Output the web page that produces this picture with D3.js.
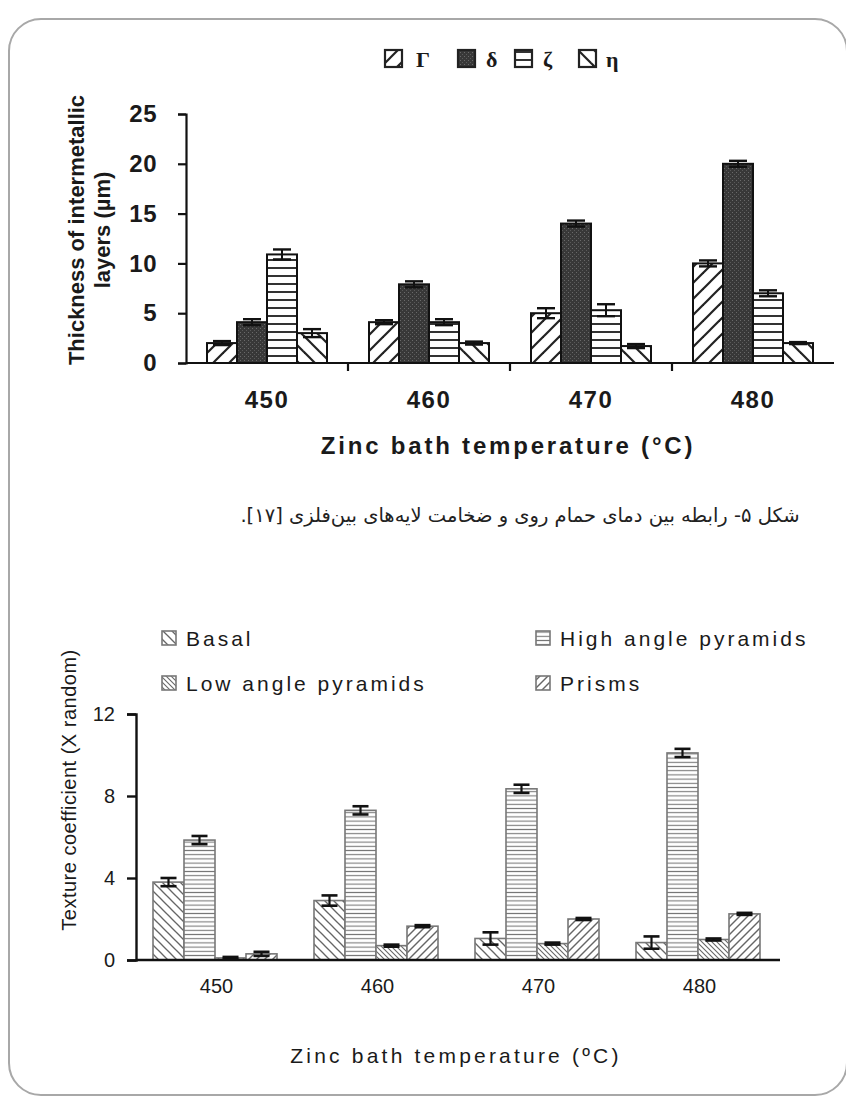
<!DOCTYPE html>
<html>
<head>
<meta charset="utf-8">
<script src="https://cdn.jsdelivr.net/npm/d3@7/dist/d3.min.js"></script>
<style>
  html, body { margin: 0; padding: 0; background: #fff; }
  svg { display: block; }
</style>
</head>
<body>
<svg id="fig" width="846" height="1098"></svg>
<script>
// ---- Figure 5 (top): intermetallic layer thickness ----
const tempsTop = ["450", "460", "470", "480"];
const phases = ["Γ", "δ", "ζ", "η"];
const gammaVals = [2.0, 4.1, 5.0, 10.0];
const deltaVals = [4.1, 7.9, 14.0, 20.0];
const zetaVals  = [10.9, 4.1, 5.3, 7.0];
const etaVals   = [3.0, 2.0, 1.7, 2.0];
const gammaErr = [0.2, 0.2, 0.5, 0.3];
const deltaErr = [0.3, 0.3, 0.3, 0.3];
const zetaErr  = [0.5, 0.3, 0.6, 0.3];
const etaErr   = [0.4, 0.15, 0.2, 0.1];
const yTicksTop = [0, 5, 10, 15, 20, 25];

// ---- Bottom: texture coefficients ----
const tempsBot = ["450", "460", "470", "480"];
const planes = ["Basal", "High angle pyramids", "Low angle pyramids", "Prisms"];
const basalVals = [3.8, 2.9, 1.05, 0.85];
const highVals  = [5.85, 7.3, 8.35, 10.1];
const lowVals   = [0.1, 0.7, 0.8, 1.0];
const prismVals = [0.3, 1.65, 2.0, 2.25];
const basalErr = [0.2, 0.25, 0.3, 0.3];
const highErr  = [0.2, 0.2, 0.2, 0.2];
const lowErr   = [0.05, 0.05, 0.05, 0.05];
const prismErr = [0.1, 0.05, 0.05, 0.05];
const yTicksBot = [0, 4, 8, 12];

const caption = "شکل ۵- رابطه بین دمای حمام روی و ضخامت لایه‌های بین‌فلزی [۱۷].";

const SANS = "Liberation Sans, Arial, sans-serif";
const svg = d3.select("#fig");
const defs = svg.append("defs");

// hatch patterns
function hatch(id, size, paths, stroke, sw, bg) {
  const p = defs.append("pattern").attr("id", id)
    .attr("patternUnits", "userSpaceOnUse").attr("width", size).attr("height", size);
  p.append("rect").attr("width", size).attr("height", size).attr("fill", bg || "#fff");
  paths.forEach(d => p.append("path").attr("d", d).attr("stroke", stroke)
    .attr("stroke-width", sw).attr("fill", "none"));
  return `url(#${id})`;
}
function fwd(s) { return [`M0,${s} L${s},0`, `M${-s/2},${s/2} L${s/2},${-s/2}`, `M${s/2},${s*1.5} L${s*1.5},${s/2}`]; }
function back(s) { return [`M0,0 L${s},${s}`, `M${-s/2},${s/2} L${s/2},${s*1.5}`, `M${s/2},${-s/2} L${s*1.5},${s/2}`]; }

const pGamma = hatch("pGamma", 16, fwd(16), "#222", 2.2);
const pEta   = hatch("pEta", 16, back(16), "#222", 2.2);
const pZeta  = hatch("pZeta", 8, ["M0,4 L8,4"], "#333", 2);
// dark dotted fill for delta
(function () {
  const p = defs.append("pattern").attr("id", "pDelta")
    .attr("patternUnits", "userSpaceOnUse").attr("width", 4).attr("height", 4);
  p.append("rect").attr("width", 4).attr("height", 4).attr("fill", "#383838");
  p.append("rect").attr("x", 0).attr("y", 0).attr("width", 1).attr("height", 1).attr("fill", "#6a6a6a");
  p.append("rect").attr("x", 2).attr("y", 2).attr("width", 1).attr("height", 1).attr("fill", "#5a5a5a");
})();
const pDelta = "url(#pDelta)";

const pBasal = hatch("pBasal", 9, back(9), "#666", 1.3);
const pHigh  = hatch("pHigh", 4.2, ["M0,2.1 L4.2,2.1"], "#777", 1.1);
const pLow   = hatch("pLow", 5, back(5), "#666", 1.1);
const pPrism = hatch("pPrism", 8, fwd(8), "#666", 1.4);

// card frame
svg.append("rect").attr("x", 9).attr("y", 19).attr("width", 838).attr("height", 1076)
  .attr("rx", 32).attr("ry", 32).attr("fill", "none").attr("stroke", "#a8a8a8").attr("stroke-width", 2);

// ================= TOP CHART =================
const topG = svg.append("g");
const xTop = d3.scaleBand().domain(tempsTop).range([186, 834]);
const xTopInner = d3.scaleBand().domain(phases).range([21, 141]);
const yTop = d3.scaleLinear().domain([0, 25]).range([363, 114]);

const topSeries = [
  { key: "Γ", vals: gammaVals, err: gammaErr, fill: pGamma },
  { key: "δ", vals: deltaVals, err: deltaErr, fill: pDelta },
  { key: "ζ", vals: zetaVals,  err: zetaErr,  fill: pZeta },
  { key: "η", vals: etaVals,   err: etaErr,   fill: pEta }
];

// y axis
const yAxisTop = topG.append("g").attr("transform", "translate(186,0)")
  .call(d3.axisLeft(yTop).tickValues(yTicksTop).tickSize(8).tickPadding(21));
yAxisTop.select(".domain").attr("stroke", "#111").attr("stroke-width", 2.2);
yAxisTop.selectAll(".tick line").attr("stroke", "#111").attr("stroke-width", 2.2);
yAxisTop.selectAll("text").attr("font-family", SANS)
  .attr("font-weight", "bold").attr("font-size", 24).attr("letter-spacing", 0.5).attr("fill", "#1a1a1a");

// bars
topSeries.forEach(s => {
  const g = topG.append("g");
  tempsTop.forEach((t, i) => {
    const x0 = xTop(t) + xTopInner(s.key);
    g.append("rect").attr("x", x0).attr("y", yTop(s.vals[i]))
      .attr("width", xTopInner.bandwidth()).attr("height", yTop(0) - yTop(s.vals[i]))
      .attr("fill", s.fill).attr("stroke", "#111").attr("stroke-width", 2);
    const cx = x0 + xTopInner.bandwidth() / 2;
    const yh = yTop(s.vals[i] + s.err[i]), yl = yTop(s.vals[i] - s.err[i]);
    g.append("line").attr("x1", cx).attr("x2", cx).attr("y1", yh).attr("y2", yl)
      .attr("stroke", "#111").attr("stroke-width", 2);
    [yh, yl].forEach(yy => g.append("line").attr("x1", cx - 9).attr("x2", cx + 9)
      .attr("y1", yy).attr("y2", yy).attr("stroke", "#111").attr("stroke-width", 2.4));
  });
});

// x axis (ticks between categories)
const xAxisTop = topG.append("g").attr("transform", `translate(0,${yTop(0)})`);
xAxisTop.append("line").attr("x1", 186).attr("x2", 834).attr("y1", 0).attr("y2", 0)
  .attr("stroke", "#111").attr("stroke-width", 2.2);
tempsTop.slice(1).forEach(t => xAxisTop.append("line").attr("x1", xTop(t)).attr("x2", xTop(t))
  .attr("y1", 0).attr("y2", 8).attr("stroke", "#111").attr("stroke-width", 2.2));
tempsTop.forEach(t => xAxisTop.append("text").attr("x", xTop(t) + xTop.bandwidth() / 2).attr("y", 45)
  .attr("text-anchor", "middle").attr("font-family", SANS)
  .attr("font-weight", "bold").attr("font-size", 24).attr("letter-spacing", 1.5).attr("fill", "#1a1a1a").text(t));

// axis titles
topG.append("text").attr("x", 508).attr("y", 454).attr("text-anchor", "middle")
  .attr("font-family", SANS).attr("font-weight", "bold")
  .attr("font-size", 24).attr("letter-spacing", 2.8).attr("fill", "#1a1a1a")
  .text("Zinc bath temperature (°C)");
const yt = topG.append("text").attr("transform", "translate(84,230) rotate(-90)")
  .attr("text-anchor", "middle").attr("font-family", SANS)
  .attr("font-weight", "bold").attr("font-size", 22).attr("fill", "#1a1a1a");
yt.append("tspan").attr("x", 0).attr("dy", 0).text("Thickness of intermetallic");
yt.append("tspan").attr("x", 0).attr("dy", 26).text("layers (µm)");

// legend
const legTop = topG.append("g");
const legBoxX = [385, 458, 515, 579];
const legTxtX = [416, 486, 543, 606];
topSeries.forEach((s, i) => {
  legTop.append("rect").attr("x", legBoxX[i]).attr("y", 50).attr("width", 17).attr("height", 17)
    .attr("fill", s.fill).attr("stroke", "#222").attr("stroke-width", 2.2);
  legTop.append("text").attr("x", legTxtX[i]).attr("y", 67)
    .attr("font-family", "Liberation Serif, Times New Roman, serif").attr("font-weight", "bold")
    .attr("font-size", 22).attr("fill", "#1a1a1a").text(s.key);
});

// caption
svg.append("text").attr("x", 520).attr("y", 522).attr("text-anchor", "middle")
  .attr("direction", "rtl").attr("font-family", "DejaVu Sans, sans-serif")
  .attr("font-size", 19.5).attr("fill", "#222").text(caption);

// ================= BOTTOM CHART =================
const botG = svg.append("g");
const xBot = d3.scaleBand().domain(tempsBot).range([136, 780]);
const xBotInner = d3.scaleBand().domain(planes).range([17, 141]);
const yBot = d3.scaleLinear().domain([0, 12]).range([960, 714]);

const botSeries = [
  { key: "Basal", vals: basalVals, err: basalErr, fill: pBasal },
  { key: "High angle pyramids", vals: highVals, err: highErr, fill: pHigh },
  { key: "Low angle pyramids", vals: lowVals, err: lowErr, fill: pLow },
  { key: "Prisms", vals: prismVals, err: prismErr, fill: pPrism }
];

const yAxisBot = botG.append("g").attr("transform", "translate(136,0)")
  .call(d3.axisLeft(yBot).tickValues(yTicksBot).tickSize(9).tickPadding(12));
yAxisBot.select(".domain").attr("stroke", "#111").attr("stroke-width", 2.4);
yAxisBot.selectAll(".tick line").attr("stroke", "#111").attr("stroke-width", 2.4);
yAxisBot.selectAll("text").attr("font-family", SANS)
  .attr("font-size", 20).attr("fill", "#1a1a1a");

botSeries.forEach(s => {
  const g = botG.append("g");
  tempsBot.forEach((t, i) => {
    const x0 = xBot(t) + xBotInner(s.key);
    g.append("rect").attr("x", x0).attr("y", yBot(s.vals[i]))
      .attr("width", xBotInner.bandwidth()).attr("height", yBot(0) - yBot(s.vals[i]))
      .attr("fill", s.fill).attr("stroke", "#777").attr("stroke-width", 1.6);
    const cx = x0 + xBotInner.bandwidth() / 2;
    const yh = yBot(s.vals[i] + s.err[i]), yl = yBot(s.vals[i] - s.err[i]);
    g.append("line").attr("x1", cx).attr("x2", cx).attr("y1", yh).attr("y2", yl)
      .attr("stroke", "#111").attr("stroke-width", 2.2);
    [yh, yl].forEach(yy => g.append("line").attr("x1", cx - 8).attr("x2", cx + 8)
      .attr("y1", yy).attr("y2", yy).attr("stroke", "#111").attr("stroke-width", 2.6));
  });
});

const xAxisBot = botG.append("g").attr("transform", `translate(0,${yBot(0)})`);
xAxisBot.append("line").attr("x1", 136).attr("x2", 780).attr("y1", 0).attr("y2", 0)
  .attr("stroke", "#111").attr("stroke-width", 2.4);
tempsBot.forEach(t => xAxisBot.append("text").attr("x", xBot(t) + xBot.bandwidth() / 2).attr("y", 33)
  .attr("text-anchor", "middle").attr("font-family", SANS)
  .attr("font-size", 20).attr("fill", "#1a1a1a").text(t));

botG.append("text").attr("x", 456).attr("y", 1063).attr("text-anchor", "middle")
  .attr("font-family", SANS).attr("font-size", 21)
  .attr("letter-spacing", 3.2).attr("fill", "#1a1a1a").text("Zinc bath temperature (ºC)");
botG.append("text").attr("transform", "translate(76,790) rotate(-90)").attr("text-anchor", "middle")
  .attr("font-family", SANS).attr("font-size", 20)
  .attr("letter-spacing", 0.5).attr("fill", "#1a1a1a").text("Texture coefficient (X random)");

// legend (two columns)
const legPos = [[162, 638], [536, 638], [162, 683], [536, 683]];
botSeries.forEach((s, i) => {
  const [lx, ly] = legPos[i];
  botG.append("rect").attr("x", lx).attr("y", ly - 7).attr("width", 14).attr("height", 14)
    .attr("fill", s.fill).attr("stroke", "#777").attr("stroke-width", 1.6);
  botG.append("text").attr("x", lx + 24).attr("y", ly + 8)
    .attr("font-family", SANS).attr("font-size", 21)
    .attr("letter-spacing", 3).attr("fill", "#1a1a1a").text(s.key);
});
</script>
</body>
</html>
